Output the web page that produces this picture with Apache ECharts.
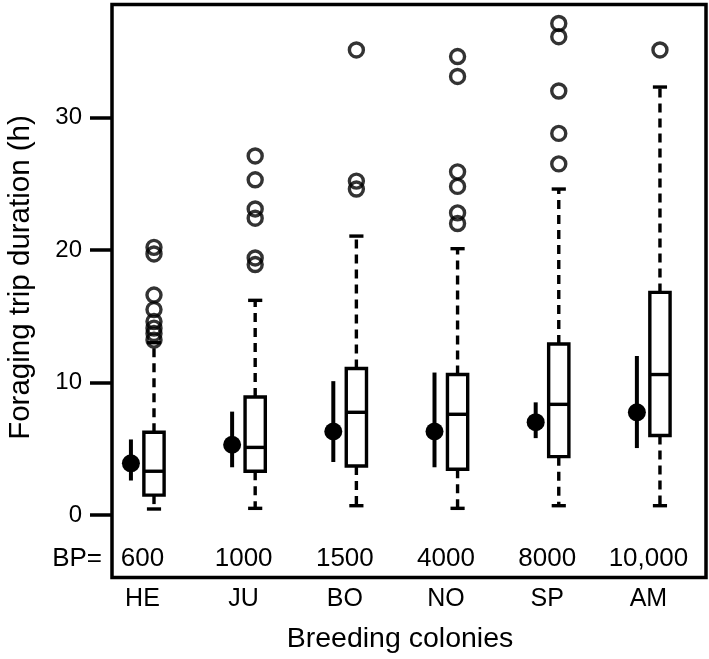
<!DOCTYPE html>
<html><head><meta charset="utf-8">
<script src="https://cdn.jsdelivr.net/npm/echarts@6/dist/echarts.min.js"></script>
<style>html,body{margin:0;padding:0;background:#fff}#c{width:709px;height:659px}</style>
</head><body><div id="c"></div>
<script>
// ---- data ----
const colonies = ['HE', 'JU', 'BO', 'NO', 'SP', 'AM'];
const breedingPairs = ['600', '1000', '1500', '4000', '8000', '10,000'];
const yTicks = [0, 10, 20, 30];
const meanVal  = [3.9, 5.3, 6.3, 6.3, 7.0, 7.75];
const meanLow  = [2.6, 3.6, 4.0, 3.6, 5.8, 5.05];
const meanHigh = [5.7, 7.8, 10.1, 10.75, 8.5, 12.0];
const whiskerLow  = [0.45, 0.5, 0.7, 0.5, 0.7, 0.7];
const q1          = [1.5, 3.3, 3.7, 3.45, 4.4, 6.0];
const median      = [3.3, 5.1, 7.75, 7.6, 8.35, 10.6];
const q3          = [6.24, 8.9, 11.05, 10.6, 12.9, 16.8];
const whiskerHigh = [13.0, 16.2, 21.05, 20.1, 24.6, 32.3];
const outliers = [
  [20.2, 19.7, 16.6, 15.5, 14.6, 14.1, 13.7, 13.2],
  [27.1, 25.3, 23.1, 22.4, 19.4, 18.9],
  [35.1, 25.2, 24.6],
  [34.6, 33.1, 25.9, 24.8, 22.8, 22.0],
  [37.1, 36.1, 32.0, 28.8, 26.5],
  [35.1]
];

// ---- layout constants ----
const XMIN = 0.699, XMAX = 6.569;
const YMIN = -4.72, YMAX = 38.53;
const OFF = 0.114;        // offset of mean (left) and box (right) from group centre
const BOX_W = 0.2, CAP_W = 0.14;
const BP_Y = -3.3;        // data-unit row for BP labels
const FONT = '"Liberation Sans", Arial, Helvetica, sans-serif';
const LW = 3.4;

const boxData = colonies.map((c, i) => [i + 1 + OFF, whiskerLow[i], q1[i], median[i], q3[i], whiskerHigh[i]]);
const meanData = colonies.map((c, i) => [i + 1 - OFF, meanVal[i], meanLow[i], meanHigh[i]]);
const outlierData = [];
outliers.forEach((arr, i) => arr.forEach(v => outlierData.push([i + 1 + OFF, v])));
const bpData = breedingPairs.map((b, i) => [i + 1, BP_Y]);

const chart = echarts.init(document.getElementById('c'), null, {renderer: 'canvas'});
chart.setOption({
  backgroundColor: '#fff',
  animation: false,
  grid: {
    left: 112, right: 3, top: 4.5, bottom: 81.5,
    show: true, borderColor: '#000', borderWidth: 3.5, backgroundColor: 'transparent',
    outerBoundsMode: 'none'
  },
  xAxis: {
    type: 'value', min: XMIN, max: XMAX,
    axisLine: {show: false}, axisTick: {show: false}, splitLine: {show: false},
    axisLabel: {
      customValues: [1, 2, 3, 4, 5, 6],
      formatter: v => colonies[Math.round(v) - 1],
      fontSize: 25, fontFamily: FONT, color: '#000', margin: 9, lineHeight: 25
    }
  },
  yAxis: {
    type: 'value', min: YMIN, max: YMAX,
    axisLine: {show: false}, splitLine: {show: false},
    axisTick: {show: true, customValues: yTicks, length: 22, lineStyle: {color: '#000', width: 3.5}},
    axisLabel: {customValues: yTicks, fontSize: 24, fontFamily: FONT, color: '#000', margin: 30}
  },
  graphic: [
    {type: 'text', x: 21, y: 277.5, rotation: Math.PI / 2,
     style: {text: 'Foraging trip duration (h)', fontSize: 29.5, fontFamily: FONT, fill: '#000', align: 'center', verticalAlign: 'middle'}},
    {type: 'text', x: 400, y: 639,
     style: {text: 'Breeding colonies', fontSize: 28.5, fontFamily: FONT, fill: '#000', align: 'center', verticalAlign: 'middle'}},
    {type: 'text', x: 102, y: 559,
     style: {text: 'BP=', fontSize: 26, fontFamily: FONT, fill: '#000', align: 'right', verticalAlign: 'middle'}}
  ],
  series: [
    {
      type: 'custom', name: 'box', clip: false, data: boxData,
      encode: {x: 0, y: [1, 2, 3, 4, 5]},
      renderItem: function (params, api) {
        const x = api.value(0);
        const pL = api.coord([x - BOX_W / 2, api.value(4)]);
        const pR = api.coord([x + BOX_W / 2, api.value(2)]);
        const pMedL = api.coord([x - BOX_W / 2, api.value(3)]);
        const pMedR = api.coord([x + BOX_W / 2, api.value(3)]);
        const pWh = api.coord([x, api.value(5)]);
        const pWl = api.coord([x, api.value(1)]);
        const pQ3 = api.coord([x, api.value(4)]);
        const pQ1 = api.coord([x, api.value(2)]);
        const capHalf = api.size([CAP_W, 0])[0] / 2;
        const solid = {stroke: '#000', lineWidth: LW, fill: null};
        const dashed = {stroke: '#000', lineWidth: LW, lineDash: [9, 6], fill: null};
        return {
          type: 'group',
          children: [
            {type: 'line', shape: {x1: pQ3[0], y1: pQ3[1], x2: pWh[0], y2: pWh[1]}, style: dashed},
            {type: 'line', shape: {x1: pQ1[0], y1: pQ1[1], x2: pWl[0], y2: pWl[1]}, style: dashed},
            {type: 'line', shape: {x1: pWh[0] - capHalf, y1: pWh[1], x2: pWh[0] + capHalf, y2: pWh[1]}, style: solid},
            {type: 'line', shape: {x1: pWl[0] - capHalf, y1: pWl[1], x2: pWl[0] + capHalf, y2: pWl[1]}, style: solid},
            {type: 'rect', shape: {x: pL[0], y: pL[1], width: pR[0] - pL[0], height: pR[1] - pL[1]},
             style: {stroke: '#000', lineWidth: LW, fill: '#fff'}},
            {type: 'line', shape: {x1: pMedL[0], y1: pMedL[1], x2: pMedR[0], y2: pMedR[1]}, style: solid}
          ]
        };
      }
    },
    {
      type: 'custom', name: 'mean', clip: false, data: meanData,
      encode: {x: 0, y: [1, 2, 3]},
      renderItem: function (params, api) {
        const x = api.value(0);
        const pM = api.coord([x, api.value(1)]);
        const pLo = api.coord([x, api.value(2)]);
        const pHi = api.coord([x, api.value(3)]);
        return {
          type: 'group',
          children: [
            {type: 'line', shape: {x1: pLo[0], y1: pLo[1], x2: pHi[0], y2: pHi[1]}, style: {stroke: '#000', lineWidth: 4}},
            {type: 'circle', shape: {cx: pM[0], cy: pM[1], r: 9}, style: {fill: '#000'}}
          ]
        };
      }
    },
    {
      type: 'scatter', name: 'outliers', data: outlierData,
      symbol: 'circle', symbolSize: 14,
      itemStyle: {color: 'rgba(0,0,0,0)', borderColor: '#000', borderWidth: 3.4},
      z: 5
    },
    {
      type: 'custom', name: 'bp', clip: false, data: bpData,
      encode: {x: 0, y: 1},
      renderItem: function (params, api) {
        const p = api.coord([api.value(0), api.value(1)]);
        return {
          type: 'text', x: p[0], y: p[1],
          style: {text: breedingPairs[params.dataIndex], fontSize: 26, fontFamily: FONT, fill: '#000', align: 'center', verticalAlign: 'middle'}
        };
      }
    }
  ]
});
</script>
</body></html>
